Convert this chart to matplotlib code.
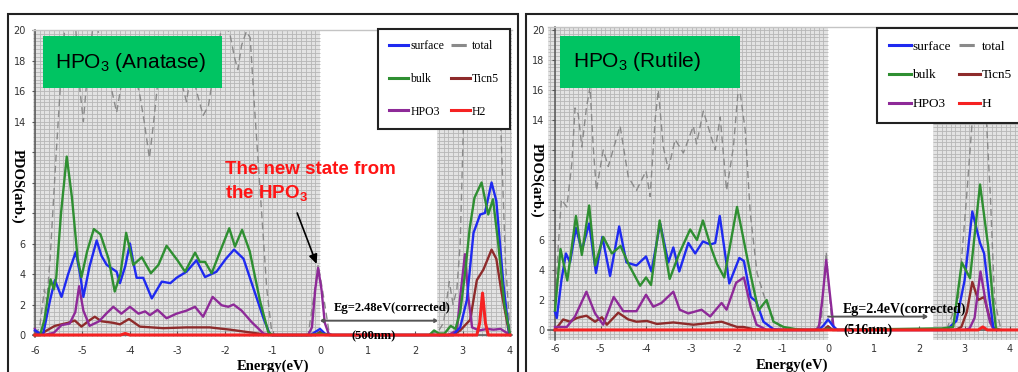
import numpy as np
import matplotlib
matplotlib.use("Agg")
import matplotlib.pyplot as plt
from matplotlib.patches import Rectangle

plt.rcParams["axes.unicode_minus"] = False

W, H = 1018, 372
SERIF = ["Liberation Serif", "DejaVu Serif"]
SANS = ["Liberation Sans", "DejaVu Sans"]

# ---------------- HPO3 on anatase: PDOS (arb.) vs energy (eV) ----------------
surface_a_E = [-6.0, -5.83, -5.68, -5.58, -5.44, -5.3, -5.14, -5.05, -4.98, -4.85, -4.70, -4.6,
               -4.49, -4.28, -4.21, -4.1, -4.0, -3.93, -3.86, -3.72, -3.54, -3.33, -3.15, -3.02,
               -2.81, -2.6, -2.42, -2.18, -1.98, -1.81, -1.61, -1.40, -1.19, -1.05, -0.9,
               -0.2, -0.1, 0.0, 0.1, 0.2,
               2.8, 2.95, 3.09, 3.23, 3.37, 3.47, 3.61, 3.71, 3.86, 3.98]
surface_a = [0.3, 0.0, 2.3, 3.6, 2.5, 4.0, 5.45, 4.0, 2.5, 4.5, 6.2, 5.2,
             4.6, 4.15, 3.4, 4.5, 6.0, 4.8, 3.75, 3.75, 2.4, 3.5, 3.4, 3.75,
             4.15, 4.9, 3.8, 4.15, 5.0, 5.6, 5.0, 3.05, 1.1, 0.0, 0.0,
             0.0, 0.2, 0.4, 0.1, 0.0,
             0.0, 0.5, 2.3, 6.7, 7.9, 8.0, 10.0, 8.8, 3.3, 0.1]

bulk_a_E = [-6.0, -5.89, -5.8, -5.67, -5.6, -5.55, -5.45, -5.33, -5.22, -5.1, -5.02, -4.9,
            -4.76, -4.62, -4.45, -4.32, -4.2, -4.08, -3.93, -3.75, -3.56, -3.4, -3.23, -3.0,
            -2.84, -2.63, -2.53, -2.42, -2.28, -2.1, -1.91, -1.79, -1.64, -1.48, -1.26, -1.09, -1.0,
            -0.2, 0.0, 0.2,
            2.3, 2.4, 2.5, 2.62, 2.75, 2.85, 2.95, 3.05, 3.15, 3.25, 3.40, 3.54, 3.64, 3.75, 3.88, 4.0]
bulk_a = [0.0, 0.0, 1.0, 3.65, 3.0, 3.8, 8.0, 11.7, 9.0, 5.0, 3.8, 5.5,
          6.95, 6.6, 5.0, 2.85, 4.0, 6.7, 4.6, 5.1, 4.05, 4.6, 5.85, 4.9,
          4.15, 5.4, 4.8, 4.8, 4.05, 5.5, 7.0, 5.8, 6.9, 5.5, 2.2, 0.2, 0.0,
          0.0, 0.1, 0.0,
          0.0, 0.3, 0.1, 0.1, 0.6, 0.4, 1.5, 4.0, 7.0, 9.0, 10.0, 7.9, 8.9, 6.0, 2.0, 0.0]

hpo3_a_E = [-6.0, -5.95, -5.8, -5.6, -5.44, -5.27, -5.15, -5.07, -4.98, -4.85, -4.65, -4.5,
            -4.35, -4.18, -4.0, -3.82, -3.68, -3.58, -3.42, -3.23, -3.02, -2.81, -2.63, -2.46,
            -2.26, -2.07, -1.93, -1.82, -1.65, -1.44, -1.19, -1.0,
            -0.25, -0.17, -0.1, -0.04, 0.03, 0.1, 0.18, 0.25,
            2.7, 2.88, 2.95, 3.05, 3.12, 3.2, 3.35, 3.52, 3.65, 3.8, 3.9, 4.0]
hpo3_a = [0.4, 0.1, 0.0, 0.15, 0.65, 0.75, 1.5, 3.2, 1.6, 0.6, 0.9, 1.4,
          1.85, 1.4, 1.85, 1.4, 1.55, 1.3, 1.65, 1.1, 1.4, 1.6, 1.85, 1.2,
          2.5, 1.95, 1.85, 2.0, 1.6, 0.85, 0.1, 0.0,
          0.0, 0.5, 3.0, 4.4, 3.0, 0.8, 0.1, 0.0,
          0.0, 0.3, 2.5, 5.3, 2.5, 0.5, 0.3, 0.4, 0.35, 0.4, 0.2, 0.0]

ticn5_a_E = [-6.0, -5.9, -5.75, -5.58, -5.44, -5.3, -5.16, -5.02, -4.88, -4.74, -4.6, -4.35,
             -4.21, -4.02, -3.79, -3.3, -2.81, -2.32, -1.89, -1.54, -1.19, -1.0,
             -0.1, 0.0, 0.1,
             2.8, 2.95, 3.16, 3.3, 3.44, 3.61, 3.71, 3.82, 3.98]
ticn5_a = [0.0, 0.0, 0.3, 0.6, 0.7, 0.8, 0.95, 0.55, 0.9, 1.2, 0.9, 0.8,
           0.7, 1.05, 0.55, 0.45, 0.5, 0.5, 0.35, 0.2, 0.05, 0.0,
           0.0, 0.2, 0.0,
           0.0, 0.3, 1.0, 3.6, 4.3, 5.6, 5.0, 2.8, 0.1]

h_a_E = [-6.0, -4.2, -4.1, -4.0, 3.30, 3.36, 3.42, 3.48, 3.54, 4.0]
h_a = [0.0, 0.0, 0.1, 0.0, 0.0, 0.8, 2.75, 0.8, 0.0, 0.0]

total_a_E = [-6.0, -5.9, -5.8, -5.75, -5.68, -5.55, -5.45, -5.35, -5.15, -5.05, -4.98, -4.9,
             -4.75, -4.6, -4.45, -4.28, -4.15, -4.0, -3.85, -3.79, -3.7, -3.59, -3.5, -3.4,
             -3.25, -3.1, -2.95, -2.81, -2.7, -2.6, -2.46, -2.35, -2.2, -2.05, -1.9, -1.8,
             -1.73, -1.65, -1.55, -1.47, -1.38, -1.25, -1.12, -1.02, -0.95,
             -0.25, -0.1, -0.04, 0.05, 0.2,
             2.3, 2.5, 2.6, 2.72, 2.8, 2.88, 2.95, 3.02, 3.08, 3.7, 3.8, 3.9, 4.0]
total_a = [0.0, 0.5, 3.0, 2.2, 5.0, 12.0, 17.0, 21.0, 20.5, 16.0, 14.0, 17.0,
           21.0, 19.0, 17.0, 14.6, 17.0, 18.0, 16.5, 15.7, 14.0, 11.6, 14.0, 17.0,
           19.0, 18.5, 17.0, 15.3, 17.5, 16.0, 14.4, 15.0, 18.0, 20.5, 19.8, 18.2,
           17.4, 19.0, 19.9, 19.5, 15.0, 9.0, 3.0, 0.3, 0.0,
           0.0, 3.2, 4.6, 3.0, 0.0,
           0.0, 0.3, 0.8, 3.5, 2.0, 3.0, 6.0, 14.0, 22.0, 22.0, 14.0, 5.0, 0.0]

# ---------------- HPO3 on rutile ----------------
surface_r_E = [-6.0, -5.96, -5.86, -5.76, -5.67, -5.54, -5.41, -5.25, -5.1, -4.96, -4.79, -4.59,
               -4.43, -4.21, -4.0, -3.88, -3.69, -3.51, -3.40, -3.27, -3.07, -2.92, -2.75, -2.59,
               -2.48, -2.38, -2.17, -1.95, -1.85, -1.7, -1.58, -1.42, -1.2, -1.0,
               -0.2, -0.1, 0.0, 0.1, 0.2,
               2.6, 2.82, 3.0, 3.17, 3.34, 3.43, 3.55, 3.63, 3.7]
surface_r = [1.2, 0.8, 3.3, 5.1, 4.5, 6.8, 5.3, 7.1, 3.8, 6.2, 3.6, 6.9,
             4.5, 4.3, 4.9, 3.9, 7.1, 4.5, 5.5, 3.9, 5.8, 5.1, 5.9, 5.7,
             5.8, 7.6, 3.1, 4.8, 4.6, 2.2, 1.9, 0.55, 0.05, 0.0,
             0.0, 0.3, 0.7, 0.3, 0.0,
             0.0, 0.6, 3.3, 7.9, 5.8, 5.1, 2.0, 0.2, 0.0]

bulk_r_E = [-6.0, -5.88, -5.73, -5.54, -5.41, -5.25, -5.12, -4.94, -4.75, -4.56, -4.37, -4.13,
            -4.0, -3.89, -3.7, -3.48, -3.27, -3.03, -2.88, -2.75, -2.55, -2.44, -2.28, -2.0,
            -1.9, -1.71, -1.53, -1.35, -1.2, -0.98, -0.7, -0.5,
            -0.1, 0.0, 0.1,
            2.3, 2.5, 2.75, 2.94, 3.12, 3.34, 3.52, 3.62, 3.69, 3.8]
bulk_r = [1.3, 5.4, 3.3, 7.6, 5.0, 8.3, 4.3, 6.2, 5.1, 5.6, 4.3, 2.95,
          3.5, 3.0, 7.3, 3.4, 5.1, 6.7, 6.0, 7.3, 5.3, 4.4, 3.5, 8.2,
          6.7, 3.8, 1.3, 2.0, 0.55, 0.2, 0.05, 0.0,
          0.0, 0.1, 0.0,
          0.1, 0.1, 0.2, 4.5, 3.45, 9.7, 5.55, 2.0, 0.1, 0.0]

hpo3_r_E = [-6.0, -5.74, -5.56, -5.31, -5.12, -4.94, -4.71, -4.5, -4.21, -4.0, -3.84, -3.66,
            -3.40, -3.26, -3.07, -2.78, -2.59, -2.34, -2.23, -2.02, -1.85, -1.7, -1.57, -1.35,
            -0.28, -0.2, -0.12, -0.04, 0.04, 0.12, 0.2,
            3.0, 3.11, 3.22, 3.35, 3.48, 3.56, 3.63, 3.7]
hpo3_r = [0.2, 0.2, 0.9, 2.55, 1.1, 0.35, 2.2, 1.25, 1.25, 2.35, 1.55, 1.8,
          2.55, 1.35, 1.1, 1.35, 0.9, 1.8, 1.35, 3.15, 3.5, 1.55, 0.35, 0.0,
          0.0, 0.2, 2.2, 4.67, 2.4, 0.2, 0.0,
          0.0, 0.1, 0.8, 3.9, 1.6, 0.5, 0.1, 0.0]

ticn5_r_E = [-6.0, -5.82, -5.67, -5.52, -5.31, -5.12, -4.97, -4.86, -4.61, -4.39, -4.21, -3.98,
             -3.76, -3.40, -2.96, -2.34, -2.0, -1.86, -1.64, -1.4,
             -0.1, 0.0, 0.1,
             2.8, 2.93, 3.05, 3.17, 3.3, 3.43, 3.55, 3.63, 3.7]
ticn5_r = [0.0, 0.7, 0.55, 0.8, 0.95, 0.55, 0.85, 0.35, 1.15, 0.7, 0.55, 0.6,
           0.4, 0.5, 0.35, 0.55, 0.2, 0.2, 0.05, 0.0,
           0.0, 0.25, 0.0,
           0.0, 0.2, 1.2, 3.2, 2.0, 2.2, 0.8, 0.1, 0.0]

h_r_E = [-6.0, 3.3, 3.4, 3.5, 4.35]
h_r = [0.0, 0.0, 0.2, 0.0, 0.0]

total_r_E = [-6.0, -5.93, -5.86, -5.74, -5.63, -5.56, -5.49, -5.41, -5.31, -5.23, -5.16, -5.09,
             -4.94, -4.83, -4.57, -4.39, -4.21, -4.0, -3.91, -3.80, -3.73, -3.62, -3.51, -3.36,
             -3.18, -2.96, -2.89, -2.74, -2.59, -2.48, -2.37, -2.23, -2.08, -1.98, -1.93, -1.82,
             -1.71, -1.56, -1.42, -1.27, -1.05, -0.76,
             -0.3, -0.15, -0.04, 0.08, 0.2,
             2.6, 2.86, 3.04, 3.17, 3.3, 3.48, 3.57, 3.66, 3.8]
total_r = [1.5, 5.5, 8.7, 8.2, 11.1, 14.8, 14.4, 12.2, 14.8, 16.2, 12.2, 9.3,
           12.0, 10.9, 13.6, 10.2, 9.3, 10.6, 8.9, 14.0, 16.0, 12.2, 10.7, 12.7,
           11.8, 13.6, 12.4, 14.6, 13.1, 12.0, 14.2, 9.3, 12.2, 15.8, 15.8, 13.3,
           7.8, 3.8, 2.4, 1.1, 0.2, 0.0,
           0.0, 0.5, 5.2, 0.5, 0.0,
           0.0, 2.0, 8.7, 14.0, 18.0, 14.0, 8.7, 2.0, 0.0]

x_ticks = [-6, -5, -4, -3, -2, -1, 0, 1, 2, 3, 4]
y_ticks = [0, 2, 4, 6, 8, 10, 12, 14, 16, 18, 20]
# tick values whose labels sit underneath the rotated y-axis title
y_ticks_under_title = [8, 10, 12]

C_SURF, C_BULK, C_HPO3 = "#1f2af0", "#2f8f32", "#8e2a98"
C_TICN, C_H, C_TOT = "#8e2b2b", "#f52222", "#8a8a8a"
GRID_BG, GRID_LN = "#e3e3e3", "#b6b6b6"
BOX_GREEN = "#00c462"


def axes_px(fig, left, right, top, bottom):
    return fig.add_axes([left / W, (H - bottom) / H, (right - left) / W, (bottom - top) / H])


def shade(ax, x0, x1, y0, y1):
    ax.add_patch(Rectangle((x0, y0), x1 - x0, y1 - y0, facecolor=GRID_BG,
                           edgecolor="none", zorder=0))
    xs = np.arange(np.ceil(x0 * 10) / 10, x1, 0.1)
    ax.vlines(xs, y0, y1, colors=GRID_LN, lw=0.6, zorder=0.5)
    ys = np.arange(np.ceil(y0 * 4) / 4, y1, 0.25)
    ax.hlines(ys, x0, x1, colors=GRID_LN, lw=0.6, zorder=0.5)


def panel(ax, series, labels, xlim, ylim, vbm, cbm, leg_kw, leg_fs, leg_space):
    ax.set_xlim(*xlim)
    ax.set_ylim(*ylim)
    ax.set_facecolor("white")
    shade(ax, xlim[0], vbm, ylim[0], ylim[1])
    shade(ax, cbm, xlim[1], ylim[0], ylim[1])

    (tE, tV), (cE, cV), (pE, pV), (sE, sV), (bE, bV), (hE, hV) = series
    l_tot, = ax.plot(tE, tV, color=C_TOT, lw=1.0, dashes=(5, 3), zorder=2)
    l_tic, = ax.plot(cE, cV, color=C_TICN, lw=1.7, zorder=3)
    l_hpo, = ax.plot(pE, pV, color=C_HPO3, lw=1.7, zorder=3)
    l_sur, = ax.plot(sE, sV, color=C_SURF, lw=1.7, zorder=3)
    l_bul, = ax.plot(bE, bV, color=C_BULK, lw=1.7, zorder=3)
    l_h, = ax.plot(hE, hV, color=C_H, lw=2.2, zorder=3.5)

    leg = ax.legend([l_sur, l_bul, l_hpo, l_tot, l_tic, l_h],
                    [labels[0], labels[2], labels[4], labels[1], labels[3], labels[5]],
                    ncol=2, frameon=True, fancybox=False, framealpha=1, edgecolor="#222222",
                    prop={"family": SERIF, "size": leg_fs}, borderaxespad=0,
                    handlelength=1.6, handletextpad=0.15, columnspacing=0.6,
                    labelspacing=leg_space, borderpad=0.95, **leg_kw)
    leg.get_frame().set_linewidth(1.5)
    leg.set_zorder(6)
    for ln in leg.get_lines():
        ln.set_linewidth(2.2)

    ax.set_xticks(x_ticks)
    ax.set_yticks(y_ticks)
    ax.set_yticklabels(["" if v in y_ticks_under_title else str(v) for v in y_ticks])
    ax.tick_params(axis="both", labelsize=7, labelcolor="#333333", color="#555555")
    for t in ax.get_xticklabels() + ax.get_yticklabels():
        t.set_fontfamily(SERIF)
    ax.spines["left"].set_position(("data", -6))
    ax.spines["bottom"].set_position(("data", 0))
    for s in ("left", "bottom"):
        ax.spines[s].set_color("#555555")
        ax.spines[s].set_linewidth(1.1)
    ax.spines["top"].set_color("#c4c4c4")
    ax.spines["top"].set_linewidth(1.0)
    ax.spines["right"].set_visible(False)


fig = plt.figure(figsize=(W / 100, H / 100), dpi=100)
fig.patch.set_facecolor("white")

# outer frames of the two panels
fig.add_artist(Rectangle((8 / W, -0.05), 510 / W, (H - 14) / H + 0.05, transform=fig.transFigure,
                         fill=False, edgecolor="#222222", lw=1.5))
fig.add_artist(Rectangle((526 / W, -0.05), 0.6, (H - 14) / H + 0.05, transform=fig.transFigure,
                         fill=False, edgecolor="#222222", lw=1.5))

# ---------- anatase ----------
axA = axes_px(fig, 33, 512, 30, 337)
panel(axA,
      [(total_a_E, total_a), (ticn5_a_E, ticn5_a), (hpo3_a_E, hpo3_a),
       (surface_a_E, surface_a), (bulk_a_E, bulk_a), (h_a_E, h_a)],
      ["surface", "total", "bulk", "Ticn5", "HPO3", "H2"],
      (-6.04, 4.04), (-0.13, 20.0), 0.0, 2.47,
      dict(loc="upper right", bbox_to_anchor=(0.996, 1.003)), 8.5, 1.75)
axA.tick_params(axis="x", direction="in", length=3, pad=8)
axA.tick_params(axis="y", direction="out", length=2.5, pad=4)

axA.add_patch(Rectangle((-5.83, 16.2), 3.77, 3.4, facecolor=BOX_GREEN, edgecolor="none", zorder=5))
axA.text(-5.58, 17.9, r"HPO$_\mathregular{3}$ (Anatase)", family=SANS, fontsize=15,
         va="center", ha="left", zorder=6)

axA.text(-2.0, 10.0, "The new state from\nthe HPO$_\\mathregular{3}$", family=SANS,
         fontweight="bold", fontsize=13.5, color="#ff1414", va="center", ha="left",
         linespacing=1.35, zorder=6)
i_pk = int(np.argmax(hpo3_a[:40]))
axA.annotate("", xy=(hpo3_a_E[i_pk], hpo3_a[i_pk]), xytext=(-0.48, 8.0),
             arrowprops=dict(arrowstyle="-|>,head_length=0.55,head_width=0.25",
                             color="black", lw=1.2, shrinkA=0, shrinkB=3), zorder=6)

axA.annotate("", xy=(0.0, 0.94), xytext=(2.48, 0.94),
             arrowprops=dict(arrowstyle="<->,head_length=0.15,head_width=0.1",
                             color="#555555", lw=1.4, shrinkA=0, shrinkB=0), zorder=6)
axA.text(0.28, 1.75, "Eg=2.48eV(corrected)", family=SERIF, fontweight="bold", fontsize=9,
         va="center", ha="left", zorder=6)
axA.text(0.67, -0.07, "(500nm)", family=SERIF, fontweight="bold", fontsize=9,
         va="center", ha="left", zorder=6)

axA.set_xlabel("Energy(eV)", family=SERIF, fontweight="bold", fontsize=10.5)
axA.xaxis.set_label_coords(0.5, -0.072)
axA.set_ylabel("PDOS(arb.)", family=SERIF, fontweight="bold", fontsize=10.5, rotation=270,
               va="center", ha="center", bbox=dict(facecolor="white", edgecolor="none", pad=1))
axA.yaxis.set_label_coords(-0.033, 0.49)

# ---------- rutile ----------
axR = axes_px(fig, 548, 1026, 27, 340)
panel(axR,
      [(total_r_E, total_r), (ticn5_r_E, ticn5_r), (hpo3_r_E, hpo3_r),
       (surface_r_E, surface_r), (bulk_r_E, bulk_r), (h_r_E, h_r)],
      ["surface", "total", "bulk", "Ticn5", "HPO3", "H"],
      (-6.154, 4.35), (-0.67, 20.2), 0.0, 2.31,
      dict(loc="upper left", bbox_to_anchor=(0.688, 0.997)), 9.5, 1.25)
axR.tick_params(axis="x", direction="in", length=3, pad=10)
axR.tick_params(axis="y", direction="out", length=2.5, pad=5)

axR.add_patch(Rectangle((-5.89, 16.13), 3.96, 3.47, facecolor=BOX_GREEN, edgecolor="none", zorder=5))
axR.text(-5.6, 17.87, r"HPO$_\mathregular{3}$ (Rutile)", family=SANS, fontsize=15,
         va="center", ha="left", zorder=6)

axR.annotate("", xy=(0.0, 0.89), xytext=(2.2, 0.89),
             arrowprops=dict(arrowstyle="<-,head_length=0.2,head_width=0.12",
                             color="#555555", lw=1.4, shrinkA=0, shrinkB=0), zorder=6)
axR.text(0.33, 1.38, "Eg=2.4eV(corrected)", family=SERIF, fontweight="bold", fontsize=10,
         va="center", ha="left", zorder=6)
axR.text(0.33, 0.0, "(516nm)", family=SERIF, fontweight="bold", fontsize=10,
         va="center", ha="left", zorder=6)

axR.set_xlabel("Energy(eV)", family=SERIF, fontweight="bold", fontsize=10.5)
axR.xaxis.set_label_coords(0.51, -0.058)
axR.set_ylabel("PDOS(arb.)", family=SERIF, fontweight="bold", fontsize=10.5, rotation=270,
               va="center", ha="center", bbox=dict(facecolor="white", edgecolor="none", pad=1))
axR.yaxis.set_label_coords(-0.025, 0.51)

fig.savefig("out.png", dpi=100, facecolor="white")
